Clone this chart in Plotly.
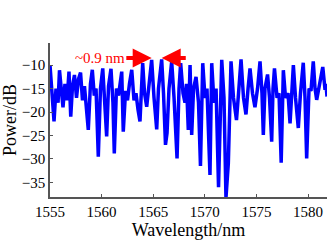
import plotly.graph_objects as go

wavelength = [
    1555.00, 1555.19, 1555.39, 1555.58, 1555.78, 1555.92, 1556.11, 1556.26, 1556.45, 1556.65,
    1556.84, 1557.01, 1557.18, 1557.37, 1557.57, 1557.76, 1557.96, 1558.15, 1558.34, 1558.54,
    1558.71, 1558.92, 1559.10, 1559.29, 1559.46, 1559.68, 1559.89, 1560.11, 1560.28, 1560.49,
    1560.67, 1560.91, 1561.10, 1561.23, 1561.44, 1561.64, 1561.95, 1562.10, 1562.32, 1562.51,
    1562.70, 1562.92, 1563.14, 1563.33, 1563.53, 1563.72, 1563.98, 1564.16, 1564.37, 1564.54,
    1564.85, 1565.08, 1565.34, 1565.51, 1565.82, 1566.00, 1566.19, 1566.34, 1566.53, 1566.79,
    1567.02, 1567.31, 1567.50, 1567.66, 1567.89, 1568.08, 1568.23, 1568.40, 1568.57, 1568.73,
    1568.91, 1569.15, 1569.39, 1569.58, 1569.80, 1570.02, 1570.21, 1570.50, 1570.67, 1570.89,
    1571.09, 1571.33, 1571.64, 1571.86, 1572.05, 1572.28, 1572.54, 1572.78, 1573.07, 1573.27,
    1573.51, 1573.75, 1573.99, 1574.19, 1574.38, 1574.62, 1574.86, 1575.11, 1575.35, 1575.54,
    1575.67, 1575.83, 1576.08, 1576.27, 1576.48, 1576.61, 1576.75, 1577.00, 1577.19, 1577.40,
    1577.61, 1577.82, 1578.06, 1578.26, 1578.58, 1578.79, 1579.06, 1579.27, 1579.54, 1579.71,
    1579.87, 1580.10, 1580.29, 1580.51, 1580.68, 1580.84, 1581.07, 1581.43, 1581.65, 1581.74,
    1581.84,
]
power_db = [
    -10.0, -17.0, -22.0, -15.0, -18.0, -11.1, -17.0, -19.0, -14.0, -17.5,
    -11.4, -21.0, -14.5, -12.1, -17.0, -13.0, -11.6, -17.5, -14.5, -19.0,
    -23.8, -14.0, -11.0, -16.5, -15.0, -29.5, -15.0, -10.7, -17.0, -25.2,
    -14.5, -10.8, -18.0, -28.8, -15.0, -16.5, -11.4, -24.2, -15.5, -17.5,
    -14.0, -11.0, -17.5, -16.0, -19.5, -22.0, -9.6, -16.0, -18.9, -15.0,
    -8.9, -17.0, -23.7, -15.0, -8.8, -16.0, -27.0, -24.5, -15.0, -9.2,
    -17.0, -29.9, -15.0, -9.6, -16.0, -18.0, -14.0, -23.8, -10.0, -24.9,
    -15.0, -12.5, -18.0, -31.5, -9.6, -17.0, -15.0, -33.4, -9.6, -18.0,
    -15.0, -36.0, -8.9, -17.0, -38.3, -30.9, -9.2, -17.0, -21.7, -16.0,
    -8.8, -17.0, -20.5, -15.0, -10.7, -16.0, -19.0, -15.0, -9.2, -16.0,
    -24.9, -15.0, -12.0, -17.0, -26.3, -15.0, -10.7, -17.0, -16.0, -30.8,
    -11.1, -17.0, -16.0, -22.4, -10.0, -17.0, -23.4, -16.0, -9.5, -17.0,
    -29.9, -15.0, -15.5, -9.2, -15.0, -17.4, -14.5, -10.4, -15.3, -14.0,
    -16.7,
]

x_ticks = [1555, 1560, 1565, 1570, 1575, 1580]
y_ticks = [-35, -30, -25, -20, -15, -10]
label_text = "~0.9 nm"
arrow_left_tip, arrow_left_tail = 1564.85, 1562.25
arrow_right_tip, arrow_right_tail = 1565.82, 1568.30
arrow_level = -8.5

serif = "Liberation Serif"

fig = go.Figure()
fig.add_trace(go.Scatter(x=wavelength, y=power_db, mode="lines",
                         line=dict(color="#0000FF", width=3.5), showlegend=False))

fig.add_annotation(x=arrow_left_tip, y=arrow_level, ax=arrow_left_tail, ay=arrow_level,
                   xref="x", yref="y", axref="x", ayref="y", text="",
                   showarrow=True, arrowhead=2, arrowsize=0.95, arrowwidth=4, arrowcolor="#FF0000")
fig.add_annotation(x=arrow_right_tip, y=arrow_level, ax=arrow_right_tail, ay=arrow_level,
                   xref="x", yref="y", axref="x", ayref="y", text="",
                   showarrow=True, arrowhead=2, arrowsize=0.95, arrowwidth=4, arrowcolor="#FF0000")
fig.add_annotation(x=1559.85, y=arrow_level, xref="x", yref="y", text=label_text,
                   showarrow=False, font=dict(family=serif, size=15, color="#FF0000"))

fig.update_layout(
    width=329, height=240,
    margin=dict(l=50, r=2, t=43, b=43),
    paper_bgcolor="white", plot_bgcolor="white",
    font=dict(family=serif, size=15, color="black"),
    xaxis=dict(range=[1555, 1581.84], tickvals=x_ticks, ticks="inside", ticklen=3,
               tickcolor="#555", showline=True, linecolor="#555", linewidth=1.5,
               showgrid=False, zeroline=False, mirror=False, automargin=False,
               title=dict(text="Wavelength/nm", font=dict(size=18), standoff=0)),
    yaxis=dict(range=[-38.1, -5.3], tickvals=y_ticks, ticks="inside", ticklen=3,
               tickcolor="#555", showline=True, linecolor="#555", linewidth=1.5,
               showgrid=False, zeroline=False, mirror=False, automargin=False,
               title=dict(text="Power/dB", font=dict(size=18), standoff=2)),
)

fig.write_html("out.html", config={"displayModeBar": False},
               post_script="document.body.style.margin='0';")
